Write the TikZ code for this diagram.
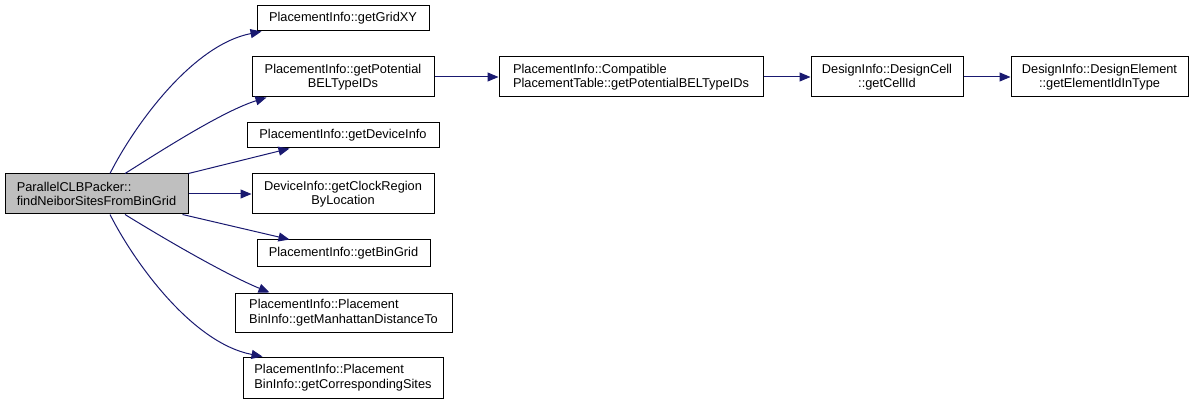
\documentclass[tikz,border=0pt]{standalone}
\usepackage{fontspec}
\setmainfont{Liberation Sans}
\usetikzlibrary{arrows.meta}
\definecolor{edgeblue}{RGB}{25,25,112}
\definecolor{rootgray}{RGB}{191,191,191}
\tikzset{
  fn/.style={draw=black, line width=1pt, fill=white, rectangle, inner sep=0pt,
    font=\fontsize{12.8}{14.5}\selectfont, align=center},
  fnl/.style={fn, align=left},
  edge/.style={draw=edgeblue, line width=1pt, -{Triangle[length=11pt,width=9pt]}, fill=none},
}
\begin{document}
\begin{tikzpicture}[x=1pt,y=-1pt]
\useasboundingbox (0,0) rectangle (1193,403);
\node[fnl, fill=rootgray, minimum width=183, minimum height=40] (root) at (96.5,194) {ParallelCLBPacker::\\findNeiborSitesFromBinGrid};
\node[fn, minimum width=172, minimum height=25] (gridxy) at (343,18.5) {PlacementInfo::getGridXY};
\node[fn, minimum width=182, minimum height=40] (potential) at (343,77) {PlacementInfo::getPotential\\BELTypeIDs};
\node[fn, minimum width=192, minimum height=25] (devinfo) at (343,135.5) {PlacementInfo::getDeviceInfo};
\node[fn, minimum width=182, minimum height=40] (clock) at (343,194) {DeviceInfo::getClockRegion\\ByLocation};
\node[fn, minimum width=173, minimum height=26] (bingrid) at (343.5,253) {PlacementInfo::getBinGrid};
\node[fnl, minimum width=217, minimum height=39] (manhattan) at (343.5,312.5) {PlacementInfo::Placement\\BinInfo::getManhattanDistanceTo};
\node[fnl, minimum width=200, minimum height=41] (corresp) at (343,377.5) {PlacementInfo::Placement\\BinInfo::getCorrespondingSites};
\node[fnl, minimum width=264, minimum height=40] (compat) at (631,77) {PlacementInfo::Compatible\\PlacementTable::getPotentialBELTypeIDs};
\node[fn, minimum width=152, minimum height=40] (dcell) at (887,77) {DesignInfo::DesignCell\\::getCellId};
\node[fn, minimum width=177, minimum height=40] (delem) at (1099.5,77) {DesignInfo::DesignElement\\::getElementIdInType};

\draw[edge] ([xshift=13.5]root.north) .. controls (134,126) and (192,45) .. ([xshift=5]gridxy.south west);
\draw[edge] ([xshift=28.5]root.north) .. controls (150,158) and (220,112) .. ([xshift=15]potential.south west);
\draw[edge] (root.north east) -- ([xshift=43]devinfo.south west);
\draw[edge] (root.east) -- (clock.west);
\draw[edge] ([xshift=-6]root.south east) -- ([xshift=33]bingrid.north west);
\draw[edge] ([xshift=28.5]root.south) .. controls (150,230) and (220,272) .. ([xshift=35]manhattan.north west);
\draw[edge] ([xshift=13.5]root.south) .. controls (134,262) and (192,343) .. ([xshift=20]corresp.north west);
\draw[edge] (potential.east) -- (compat.west);
\draw[edge] (compat.east) -- (dcell.west);
\draw[edge] (dcell.east) -- (delem.west);
\end{tikzpicture}
\end{document}
